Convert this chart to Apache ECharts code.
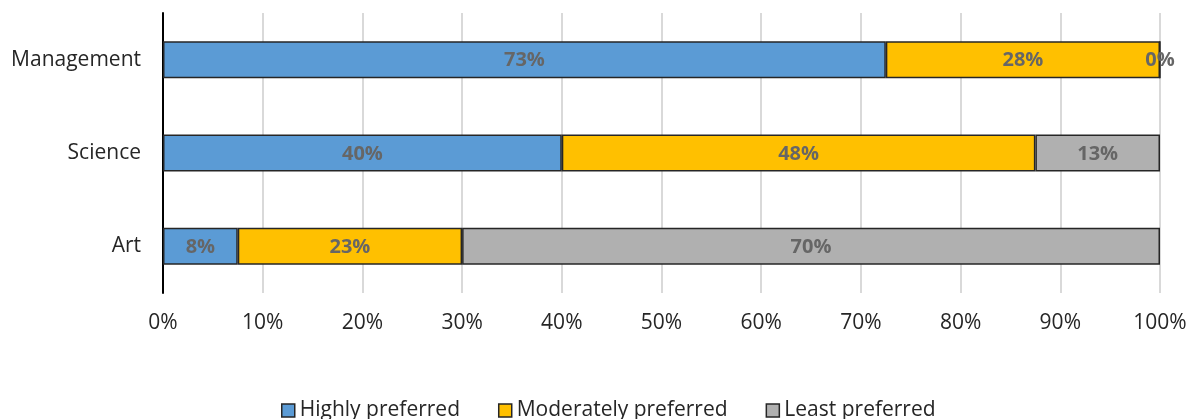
<!DOCTYPE html>
<html><head><meta charset="utf-8">
<script src="https://cdn.jsdelivr.net/npm/echarts@6/dist/echarts.min.js"></script>
<style>html,body{margin:0;padding:0;background:#fff}#c{width:1193px;height:419px}</style>
</head><body><div id="c"></div>
<script>
const categories = ["Art", "Science", "Management"];
const highly = [7.5, 40, 72.5];
const moderately = [22.5, 47.5, 27.5];
const least = [70, 12.5, 0];
const xTicks = [0,10,20,30,40,50,60,70,80,90,100];
const seriesNames = ["Highly preferred", "Moderately preferred", "Least preferred"];
const colors = ["#5B9BD5", "#FFC000", "#B0B0B0"];

const FONT = "Open Sans";
function mk(name, data, color) {
  return {
    name, type: "bar", stack: "s", data, barWidth: 37,
    itemStyle: {color, borderColor: "#262626", borderWidth: 1.5},
    label: {show: true, position: "inside", fontFamily: FONT, fontSize: 20, fontWeight: "bold",
      color: "#666666", offset: [0, 1], formatter: p => Math.round(p.value + 1e-9) + "%"},
    emphasis: {disabled: true}
  };
}
const chart = echarts.init(document.getElementById("c"));
chart.setOption({
  animation: false,
  textStyle: {fontFamily: FONT},
  grid: {left: 163, right: 33, top: 13, bottom: 126},
  legend: {
    top: 395, left: 276, itemWidth: 13, itemHeight: 13, itemGap: 38,
    icon: "rect",
    textStyle: {fontFamily: FONT, fontSize: 21, color: "#262626"},
    data: seriesNames.map((n, i) => ({name: n, itemStyle: {color: colors[i], borderColor: "#262626", borderWidth: 1.5}}))
  },
  xAxis: {
    type: "value", min: 0, max: 100, interval: 10,
    axisLine: {show: false}, axisTick: {show: false},
    splitLine: {lineStyle: {color: "#D9D9D9", width: 2}},
    axisLabel: {fontFamily: FONT, fontSize: 21, color: "#262626", margin: 20,
      formatter: v => xTicks.includes(v) ? v + "%" : ""}
  },
  yAxis: {
    type: "category", data: categories,
    axisLine: {show: true, lineStyle: {color: "#000", width: 2}},
    axisTick: {show: false},
    axisLabel: {fontFamily: FONT, fontSize: 21, color: "#262626", margin: 22}
  },
  series: [mk(seriesNames[0], highly, colors[0]), mk(seriesNames[1], moderately, colors[1]), mk(seriesNames[2], least, colors[2])]
});
</script></body></html>
